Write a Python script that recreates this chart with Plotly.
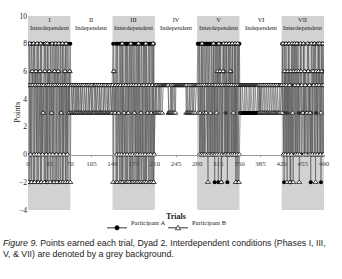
import plotly.graph_objects as go

# ---- data (points earned each trial) ----
phase_names = ["I", "II", "III", "IV", "V", "VI", "VII"]
phase_types = ["Interdependent", "Independent", "Interdependent", "Independent",
               "Interdependent", "Independent", "Interdependent"]
phase_starts = [0, 70, 140, 210, 280, 350, 420]
phase_ends = [70, 140, 210, 280, 350, 420, 490]
x_ticks = [0, 35, 70, 105, 140, 175, 210, 245, 280, 315, 350, 385, 420, 455, 490]
y_ticks = [-4, -2, 0, 2, 4, 6, 8, 10]

A_I = [8,5,-2,0,5,8,6,5,-2,0, 8,5,6,0,-2,5,8,0,5,6, -2,8,5,0,3,5,8,6,-2,0,
       5,-2,8,5,6,0,8,5,3,-2, 0,5,8,6,5,-2,0,8,5,6, -2,5,0,8,3,5,-2,8,0,5,
       6,8,-2,5,0,8,5,3,6,8]
B_I = [-2,5,8,0,5,-2,6,5,8,0, -2,5,6,0,8,5,-2,0,5,6, 8,-2,5,0,3,5,-2,6,8,0,
       5,8,-2,5,6,0,-2,5,3,8, 0,5,-2,6,5,8,0,-2,5,6, 8,5,0,-2,3,5,8,-2,0,5,
       6,-2,8,5,0,-2,5,3,6,-2]
A_II = [5,5,5,3,5,5,5,5,3,5, 5,5,3,5,5,5,5,3,5,5, 5,5,5,5,3,5,5,5,5,5,
        3,5,5,5,5,3,5,5,5,5, 5,5,3,5,5,5,5,5,3,5, 5,5,5,5,3,5,5,5,5,5,
        5,3,5,5,5,5,5,3,5,5]
B_II = [3,5,3,3,5,3,3,5,3,3, 5,3,3,5,3,3,5,3,3,5, 3,3,5,3,3,3,5,3,3,5,
        3,3,5,3,3,5,3,3,3,5, 3,5,3,3,5,3,3,5,3,3, 3,5,3,3,3,5,3,3,5,3,
        3,3,5,3,3,5,3,3,3,5]
A_III = [8,6,3,3,5,8,0,8,5,3, 0,8,5,8,0,-2,8,5,3,0, 8,5,8,0,8,3,5,8,0,-2,
         5,8,0,8,5,3,8,0,5,8, 0,8,-2,5,8,0,3,8,5,0, 8,5,8,0,-2,8,5,3,0,8,
         5,8,0,3,8,5,-2,8,0,3]
B_III = [-2,6,3,3,5,-2,0,-2,5,3, 0,-2,5,-2,0,8,-2,5,3,0, -2,5,-2,0,-2,3,5,-2,0,8,
         5,-2,0,-2,5,3,-2,0,5,-2, 0,-2,8,5,-2,0,3,-2,5,0, -2,5,-2,0,8,-2,5,3,0,-2,
         5,-2,0,3,-2,5,8,-2,0,3]
A_IV = [5,5,5,5,5,5,5,5,5,5, 5,5,5,5,5,5,5,5,5,5, 5,5,3,3,3,5,3,3,5,5,
        5,5,5,5,5,5,5,5,5,5, 5,5,5,5,5,5,5,5,5,5, 5,5,5,5,3,3,3,5,5,5,
        5,5,5,5,5,5,5,5,5,5]
B_IV = [5,3,5,3,3,5,3,5,3,5, 5,3,5,5,5,5,5,5,5,5, 5,5,3,3,3,3,5,3,3,5,
        3,3,5,3,5,5,5,5,5,5, 5,5,5,5,5,5,5,5,5,5, 5,3,5,3,3,3,5,3,3,5,
        3,3,5,3,5,5,3,5,5,5]
A_V = [8,8,5,8,0,8,8,5,0,8, 8,0,8,5,8,8,0,8,5,8, 8,0,8,8,5,0,8,8,-2,8,
       5,8,0,8,-2,5,8,6,8,-2, 5,0,8,6,5,8,3,0,8,-2, 5,8,0,5,8,6,0,5,8,0,
       5,8,0,8,5,-2,0,8,5,8]
B_V = [5,3,5,0,3,5,0,8,5,0, 3,5,0,3,3,5,0,-2,5,0, 5,3,0,5,0,5,8,0,5,0,
       5,3,0,6,5,8,0,6,5,-2, 0,5,6,8,0,5,0,8,5,0, 5,0,8,5,6,0,5,8,0,3,
       5,0,8,-2,5,0,8,5,-2,0]
A_VI = [3,5,3,3,5,3,3,3,5,3, 3,5,3,3,3,5,3,3,5,3, 3,3,5,3,3,5,3,3,3,5,
        3,5,5,3,5,5,5,5,5,5, 5,5,5,5,5,5,5,5,5,5, 5,5,5,5,5,5,5,5,5,5,
        5,5,5,5,5,5,5,5,5,5]
B_VI = [5,5,5,5,5,5,5,5,5,5, 5,5,5,5,5,5,5,5,5,5, 5,5,5,5,5,5,5,5,5,5,
        5,5,3,5,3,5,3,3,5,3, 3,5,3,3,5,3,3,5,3,3, 5,3,3,5,3,3,5,3,3,5,
        3,3,5,3,3,3,5,3,5,5]
A_VII = [8,3,0,-2,8,3,6,0,5,3, 8,0,6,-2,-2,5,8,0,6,8, 5,0,8,6,0,5,8,3,0,5,
         6,8,0,3,3,3,8,0,6,5, 3,3,0,8,6,3,5,-2,3,0, 5,8,6,0,5,8,3,6,0,5,
         8,0,6,5,-2,8,0,5,6,8]
B_VII = [3,8,0,5,6,0,8,5,-2,6, 0,8,5,-2,6,0,8,3,-2,6, 8,5,0,6,8,0,5,6,-2,0,
         8,6,5,3,3,8,0,6,5,0, 3,3,8,6,0,5,3,0,8,6, 0,6,5,8,0,-2,6,5,0,8,
         6,5,8,0,3,6,5,8,0,5]

A_all = A_I + A_II + A_III + A_IV + A_V + A_VI + A_VII
B_all = B_I + B_II + B_III + B_IV + B_V + B_VI + B_VII
trials_A = list(range(1, len(A_all) + 1))
trials_B = list(range(1, len(B_all) + 1))

serif = "Liberation Serif, Times New Roman, serif"
sans = "Liberation Sans, Arial, sans-serif"

# plot area in pixels (for placing legend / caption in paper coords)
L, R, T, B = 28, 18, 14, 69
W, H = 342, 279
PW, PH = W - L - R, H - T - B
def px(xp):
    return (xp - L) / PW
def py(yp):
    return (H - B - yp) / PH

fig = go.Figure()
fig.add_trace(go.Scatter(
    x=trials_A, y=A_all, mode="lines+markers", name="Participant A", showlegend=False,
    line=dict(color="#5a5a5a", width=0.6),
    marker=dict(symbol="circle", size=4, color="black"),
))
fig.add_trace(go.Scatter(
    x=trials_B, y=B_all, mode="lines+markers", name="Participant B", showlegend=False,
    line=dict(color="#5a5a5a", width=0.6),
    marker=dict(symbol="triangle-up", size=4.5, color="white",
                line=dict(color="black", width=0.7)),
))

shapes = []
for s, e, t in zip(phase_starts, phase_ends, phase_types):
    if t == "Interdependent":
        shapes.append(dict(type="rect", xref="x", yref="y", x0=s, x1=e, y0=-4, y1=10,
                           fillcolor="#d2d2d2", line=dict(width=0), layer="below"))

# manual legend glyphs
ly = py(228)
shapes.append(dict(type="line", xref="paper", yref="paper", x0=px(107), x1=px(127),
                   y0=ly, y1=ly, line=dict(color="black", width=0.8)))
shapes.append(dict(type="circle", xref="paper", yref="paper", xsizemode="pixel",
                   ysizemode="pixel", xanchor=px(117), yanchor=ly,
                   x0=-2.2, x1=2.2, y0=-2.2, y1=2.2,
                   fillcolor="black", line=dict(color="black", width=0.5)))
shapes.append(dict(type="line", xref="paper", yref="paper", x0=px(168), x1=px(188),
                   y0=ly, y1=ly, line=dict(color="black", width=0.8)))
shapes.append(dict(type="path", xref="paper", yref="paper", xsizemode="pixel",
                   ysizemode="pixel", xanchor=px(178), yanchor=ly,
                   path="M -2.6 -2 L 2.6 -2 L 0 2.6 Z",
                   fillcolor="white", line=dict(color="black", width=0.7)))

annotations = []
for s, e, n, t in zip(phase_starts, phase_ends, phase_names, phase_types):
    annotations.append(dict(x=(s + e) / 2, y=10, xref="x", yref="y", yanchor="top",
                            yshift=2, text=n + "<br>" + t, showarrow=False,
                            font=dict(family=serif, size=6.5, color="#222")))

annotations.append(dict(x=0.5, y=py(210), xref="paper", yref="paper", yanchor="top",
                        text="<b>Trials</b>", showarrow=False,
                        font=dict(family=serif, size=8, color="#222")))
annotations.append(dict(x=px(10), y=0.5, xref="paper", yref="paper", textangle=-90,
                        text="Points", showarrow=False,
                        font=dict(family=serif, size=8.5, color="#222")))
annotations.append(dict(x=px(129), y=ly, xref="paper", yref="paper", xanchor="left",
                        text="Participant A", showarrow=False,
                        font=dict(family=serif, size=6.5, color="#222")))
annotations.append(dict(x=px(190), y=ly, xref="paper", yref="paper", xanchor="left",
                        text="Participant B", showarrow=False,
                        font=dict(family=serif, size=6.5, color="#222")))
annotations.append(dict(x=px(1), y=py(236), xref="paper", yref="paper", xanchor="left",
                        yanchor="top", align="left",
                        text="<i>Figure 9.</i> Points earned each trial, Dyad 2. Interdependent conditions (Phases I, III,<br>V, &amp; VII) are denoted by a grey background.",
                        showarrow=False,
                        font=dict(family=sans, size=8.8, color="#222")))

fig.update_layout(
    width=W, height=H,
    margin=dict(l=L, r=R, t=T, b=B),
    paper_bgcolor="white", plot_bgcolor="white",
    showlegend=False,
    shapes=shapes, annotations=annotations,
    xaxis=dict(range=[0, 490], tickvals=x_ticks, showgrid=False, zeroline=False,
               showline=True, linecolor="#999", linewidth=0.8,
               anchor="free", position=4 / 14, ticks="outside", ticklen=2,
               tickcolor="#999", tickfont=dict(family=serif, size=7, color="#444")),
    yaxis=dict(range=[-4, 10], tickvals=y_ticks, showgrid=False, zeroline=False,
               showline=False, ticks="", ticklen=2,
               tickfont=dict(family=serif, size=7.5, color="#222")),
)

fig.write_html("out.html", config={"displayModeBar": False},
               post_script="document.body.style.margin='0px';")
